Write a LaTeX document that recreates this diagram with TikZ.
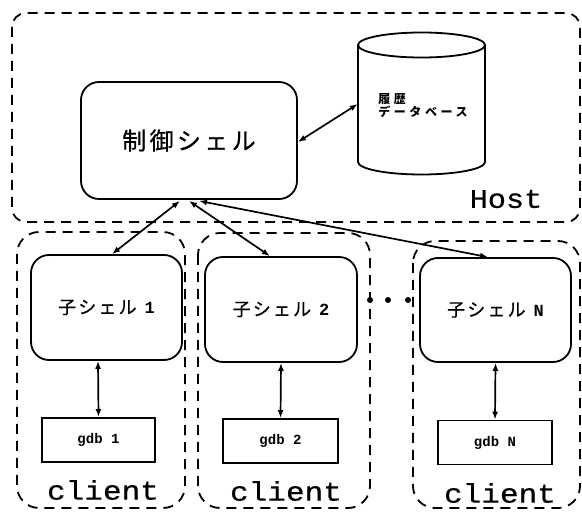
\documentclass[tikz,border=0pt]{standalone}
\usepackage{fontspec}
\usepackage{graphicx}
\setmainfont{Liberation Serif}
\newfontfamily\jpctrl[LetterSpace=14,FakeBold=0.6]{Noto Sans CJK JP}
\newfontfamily\jpchild[LetterSpace=12,FakeBold=0.5]{Noto Sans CJK JP}
\newfontfamily\jpdb[LetterSpace=30]{Noto Sans CJK JP}
\newfontfamily\mono{Liberation Mono}
\newfontfamily\monothick[FakeBold=0.5]{Liberation Mono}
\usetikzlibrary{arrows.meta,calc}
\tikzset{
  shellbox/.style={draw, rounded corners=18pt, line width=1.8pt, inner sep=0pt},
  gdbbox/.style={draw, line width=1.8pt, inner sep=0pt, minimum height=44pt,
                 font=\mono\bfseries\fontsize{14}{16}\selectfont},
  grp/.style={draw, line width=1.8pt, dash pattern=on 10pt off 7pt},
  link/.style={{Latex[length=8pt,width=6pt]}-{Latex[length=8pt,width=6pt]}, line width=1.7pt},
  biglabel/.style={inner sep=0pt, font=\monothick\fontsize{27}{30}\selectfont},
  childtext/.style={font=\jpchild\fontsize{18}{20}\selectfont},
}
\newcommand{\childlabel}[1]{子シェル\hspace{8pt}{\mono\bfseries\fontsize{17}{19}\selectfont #1}}
\begin{document}
\begin{tikzpicture}[x=1pt,y=-1pt]
\useasboundingbox (0,0) rectangle (582,513);
\fill[white] (0,0) rectangle (582,513);

% groups
\draw[grp, rounded corners=14pt] (12,13) rectangle (580,222);
\draw[grp, rounded corners=22pt] (17,232) rectangle (185,508);
\draw[grp, rounded corners=22pt] (198,233) rectangle (370,508);
\draw[grp, rounded corners=22pt] (413,241) rectangle (580,508);

% control shell
\node[shellbox, minimum width=216pt, minimum height=117pt,
      font=\jpctrl\fontsize{24}{28}\selectfont] (ctrl) at (189,140.5) {制御シェル};

% database cylinder
\node[inner sep=0pt, minimum width=127pt, minimum height=142pt] (db) at (421.5,104) {};
\draw[line width=1.8pt] (358,45) -- (358,162)
   arc[start angle=180, end angle=0, x radius=63.5, y radius=12.5] -- (485,45);
\draw[line width=1.8pt] (421.5,45) ellipse [x radius=63.5, y radius=12.5];
\node[align=left, inner sep=0pt, font=\jpdb\bfseries\fontsize{12}{13}\selectfont] (dbtext) at (423,106) {履歴\\データベース};

% child shells
\node[shellbox, childtext, minimum width=151pt, minimum height=105pt] (c1) at (106.5,307.5) {\childlabel{1}};
\node[shellbox, childtext, minimum width=152pt, minimum height=105pt] (c2) at (281,309.5) {\childlabel{2}};
\node[shellbox, childtext, minimum width=151pt, minimum height=104pt] (cN) at (495.5,310) {\childlabel{N}};

% gdb boxes
\node[gdbbox, minimum width=113pt] (g1) at (98.5,440) {gdb 1};
\node[gdbbox, minimum width=115pt] (g2) at (280.5,441) {gdb 2};
\node[gdbbox, minimum width=114pt] (gN) at (495,442.5) {gdb N};

% labels
\node[biglabel] (host) at (506,199) {\scalebox{1.12}[1]{Host}};
\node[biglabel] (cl1) at (103,490) {\scalebox{1.15}[1]{client}};
\node[biglabel] (cl2) at (286,491) {\scalebox{1.15}[1]{client}};
\node[biglabel] (clN) at (500,493) {\scalebox{1.15}[1]{client}};

% connectors
\draw[link] ([xshift=-9pt,yshift=-1pt]ctrl.south) -- ([xshift=5.5pt]c1.north);
\draw[link] ([xshift=0pt,yshift=-1pt]ctrl.south) -- ([xshift=-11pt]c2.north);
\draw[link] ([xshift=10pt,yshift=-1pt]ctrl.south) -- ([xshift=-7.5pt]cN.north);
\draw[link] ([yshift=-1.5pt]ctrl.east) -- (db.west);
\draw[link] ([xshift=-8.5pt]c1.south) -- (g1.north);
\draw[link] (c2.south) -- (g2.north);
\draw[link] (cN.south) -- (gN.north);

% ellipsis dots
\fill (370,300) circle (3pt);
\fill (388,300) circle (3pt);
\fill (408,300) circle (3pt);
\end{tikzpicture}
\end{document}
